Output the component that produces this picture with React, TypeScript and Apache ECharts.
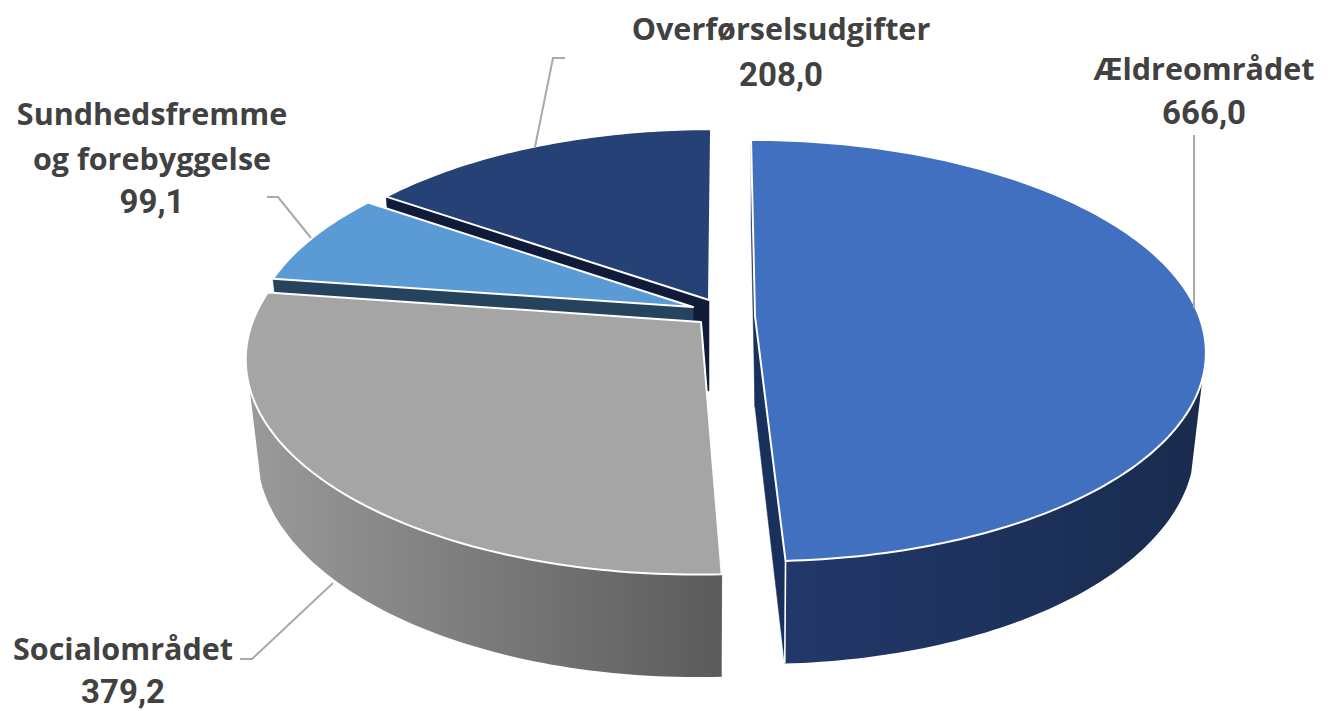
import React, { useEffect, useRef } from "react";
import * as echarts from "echarts";

const names = ["Ældreområdet", "Socialområdet", "Sundhedsfremme\nog forebyggelse", "Overførselsudgifter"];
const values = [666.0, 379.2, 99.1, 208.0];

// Slice styling and layout (not data)
const topColors = ["#4270c0", "#a5a5a5", "#5b9bd5", "#254175"];
const wallLeft = ["#22386a", "#9a9a9a", "#25435c", "#101d3a"];
const wallRight = ["#192b4e", "#5b5b5b", "#25435c", "#101d3a"];
const cutColors = ["#18305c", "#5b5b5b", "#25435c", "#0f1b38"];
const apexX = [755, 701, 693, 709];
const apexY = [316, 322, 307, 300];
const radiusX = [1.0, 1.01, 0.98, 0.97];
const radiusY = [1.0, 1.03, 0.98, 0.97];
const nameX = [1204, 123, 152, 781];
const nameY = [68, 648, 135, 28];
const valueY = [112, 691, 201, 74];
const leaders = [
  [[1194, 135], [1194, 308]],
  [[240, 659], [252, 659], [333, 583]],
  [[267, 197], [278, 197], [311, 238]],
  [[565, 58], [553, 58], [535, 147]],
];

const R = 444, Q = 205, K = 0.164, DEPTH = 91, BOTTOM = 0.975, CAMERA_X = 725, SHEAR = 0.00075;
// The outer wall is visible only between these two tangent angles (front of the pie).
const WALL_FROM = 107, WALL_TO = 253;
const total = values.reduce((a, b) => a + b, 0);
const startAngle = values.map((_, i) => values.slice(0, i).reduce((a, b) => a + b, 0) / total * 360);

function project(i: number, r: number, deg: number, bottom: boolean): number[] {
  const a = deg * Math.PI / 180;
  const u = r * Math.sin(a), v = -r * Math.cos(a);
  const s = 1 / (1 - K * v);
  const px = R * radiusX[i] * u * s;
  const py = Q * radiusY[i] * v * s;
  const shear = (apexX[i] - CAMERA_X) * SHEAR;
  const dx = px + shear * py;
  if (!bottom) return [apexX[i] + dx, apexY[i] + py];
  return [apexX[i] + dx * BOTTOM, apexY[i] + py * BOTTOM + DEPTH * s];
}

function arc(i: number, from: number, to: number, bottom: boolean): number[][] {
  const pts: number[][] = [];
  const n = Math.max(1, Math.ceil(to - from));
  for (let j = 0; j <= n; j++) pts.push(project(i, 1, from + (to - from) * j / n, bottom));
  return pts;
}

function renderSlice(_params: any, api: any) {
  const i = api.value(1) as number;
  const from = startAngle[i];
  const to = from + (api.value(0) as number) / total * 360;
  const topArc = arc(i, from, to, false);
  const apex = project(i, 0, 0, false), apexB = project(i, 0, 0, true);
  const topOuterStart = topArc[0], topOuterEnd = topArc[topArc.length - 1];
  const botOuterStart = project(i, 1, from, true), botOuterEnd = project(i, 1, to, true);
  const flat = { stroke: cutColors[i], lineWidth: 0.5 };
  const children: any[] = [
    { type: "polygon", shape: { points: [topOuterStart, apex, apexB, botOuterStart] }, style: { fill: cutColors[i], ...flat } },
  ];
  if (i !== 3) {
    children.push({ type: "polygon", shape: { points: [topOuterEnd, apex, apexB, botOuterEnd] }, style: { fill: cutColors[i], ...flat } });
  }
  const wFrom = Math.max(from, WALL_FROM), wTo = Math.min(to, WALL_TO);
  if (wTo > wFrom) {
    const top = arc(i, wFrom, wTo, false), bot = arc(i, wFrom, wTo, true);
    children.push({
      type: "polygon",
      shape: { points: [...top, ...bot.reverse()] },
      style: {
        fill: new echarts.graphic.LinearGradient(0, 0, 1, 0, [
          { offset: 0, color: wallLeft[i] },
          { offset: 1, color: wallRight[i] },
        ]),
      },
    });
  }
  if (i === 0) {
    children.push({
      type: "polyline",
      shape: { points: [topOuterEnd, botOuterEnd] },
      style: { stroke: "#ffffff", lineWidth: 1.6, fill: "none" },
    });
  }
  children.push({
    type: "polygon",
    shape: { points: [apex, ...topArc] },
    style: { fill: topColors[i], stroke: "#ffffff", lineWidth: 2, lineJoin: "round" },
  });
  return { type: "group", children };
}

export default function App() {
  const ref = useRef<HTMLDivElement>(null);
  useEffect(() => {
    const chart = echarts.init(ref.current!, undefined, { renderer: "svg" });
    const drawOrder = [3, 2, 1, 0];
    const textStyle = { fill: "#414141", align: "center", verticalAlign: "middle" };
    chart.setOption({
      animation: false,
      backgroundColor: "#ffffff",
      series: [{
        type: "custom",
        coordinateSystem: "none",
        silent: true,
        renderItem: renderSlice,
        data: drawOrder.map((i) => [values[i], i]),
      }],
      graphic: [
        ...leaders.map((points) => ({
          type: "polyline", shape: { points }, silent: true, z: 10,
          style: { stroke: "#a9a9a9", lineWidth: 2, fill: "none" },
        })),
        ...names.map((name, i) => ({
          type: "text", x: nameX[i], y: nameY[i], silent: true, z: 11,
          style: { ...textStyle, text: name, font: 'bold 30.5px "Open Sans", sans-serif', lineHeight: 45 },
        })),
        ...values.map((value, i) => ({
          type: "text", x: nameX[i], y: valueY[i], silent: true, z: 11,
          style: { ...textStyle, text: value.toFixed(1).replace(".", ","), font: 'bold 33px Roboto, sans-serif' },
        })),
      ],
    });
    return () => chart.dispose();
  }, []);
  return <div ref={ref} style={{ position: "absolute", left: 0, top: 0, width: 1331, height: 711 }} />;
}
